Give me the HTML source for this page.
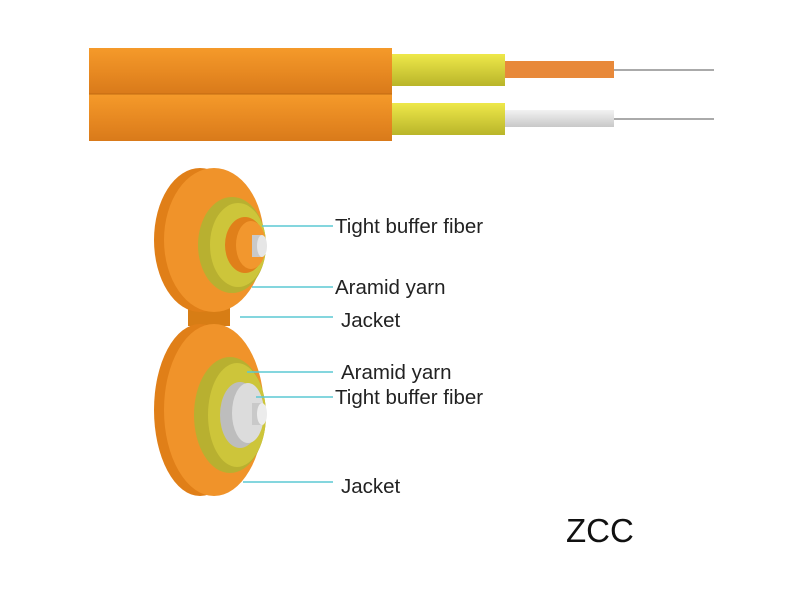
<!DOCTYPE html>
<html><head><style>body{margin:0;background:#fff}svg{display:block}</style></head><body>
<svg width="800" height="600" viewBox="0 0 800 600" xmlns="http://www.w3.org/2000/svg">
<defs>
<linearGradient id="og" x1="0" y1="0" x2="0" y2="1"><stop offset="0" stop-color="#f59a2a"/><stop offset="0.5" stop-color="#e88a22"/><stop offset="1" stop-color="#d97a1a"/></linearGradient>
<linearGradient id="yg" x1="0" y1="0" x2="0" y2="1"><stop offset="0" stop-color="#eee84a"/><stop offset="1" stop-color="#b9b52a"/></linearGradient>
<linearGradient id="wg" x1="0" y1="0" x2="0" y2="1"><stop offset="0" stop-color="#f2f2f2"/><stop offset="1" stop-color="#c8c8c8"/></linearGradient>
</defs>
<rect x="89" y="48" width="303" height="46" fill="url(#og)"/>
<rect x="89" y="94" width="303" height="47" fill="url(#og)"/>
<line x1="89" y1="94" x2="392" y2="94" stroke="#c06a10" stroke-width="1"/>
<rect x="392" y="54" width="113" height="32" fill="url(#yg)"/>
<rect x="392" y="103" width="113" height="32" fill="url(#yg)"/>
<rect x="505" y="61" width="109" height="17" fill="#e8893a"/>
<rect x="505" y="110" width="109" height="17" fill="url(#wg)"/>
<line x1="614" y1="70" x2="714" y2="70" stroke="#aaa" stroke-width="2"/>
<line x1="614" y1="119" x2="714" y2="119" stroke="#aaa" stroke-width="2"/>
<rect x="188" y="296" width="42" height="30" fill="#d77d15"/>
<ellipse cx="200" cy="240" rx="46" ry="72" fill="#e07f18"/>
<ellipse cx="214" cy="240" rx="50" ry="72" fill="#f0932a"/>
<ellipse cx="232" cy="245" rx="34" ry="48" fill="#b8b030"/>
<ellipse cx="238" cy="245" rx="28" ry="42" fill="#cdc53a"/>
<ellipse cx="245" cy="245" rx="20" ry="28" fill="#e0801a"/>
<ellipse cx="251" cy="245" rx="15" ry="24" fill="#f2972e"/>
<rect x="252" y="235" width="10" height="22" fill="#c9c9c9"/>
<ellipse cx="262" cy="246" rx="5" ry="11" fill="#e6e6e6"/>
<ellipse cx="200" cy="410" rx="46" ry="86" fill="#e07f18"/>
<ellipse cx="214" cy="410" rx="50" ry="86" fill="#f0932a"/>
<ellipse cx="230" cy="415" rx="36" ry="58" fill="#b8b030"/>
<ellipse cx="237" cy="415" rx="29" ry="52" fill="#cdc53a"/>
<ellipse cx="240" cy="415" rx="20" ry="33" fill="#bdbdbd"/>
<ellipse cx="248" cy="413" rx="16" ry="30" fill="#dcdcdc"/>
<rect x="252" y="403" width="10" height="22" fill="#c9c9c9"/>
<ellipse cx="262" cy="414" rx="5" ry="11" fill="#ececec"/>
<g stroke="#5cc8d4" stroke-width="1.5">
<line x1="262" y1="226" x2="333" y2="226"/>
<line x1="252" y1="287" x2="333" y2="287"/>
<line x1="240" y1="317" x2="333" y2="317"/>
<line x1="247" y1="372" x2="333" y2="372"/>
<line x1="256" y1="397" x2="333" y2="397"/>
<line x1="243" y1="482" x2="333" y2="482"/>
</g>
<g font-family="Liberation Sans, sans-serif" font-size="20.5" fill="#222">
<text x="335" y="233">Tight buffer fiber</text>
<text x="335" y="294">Aramid yarn</text>
<text x="341" y="327">Jacket</text>
<text x="341" y="379">Aramid yarn</text>
<text x="335" y="404">Tight buffer fiber</text>
<text x="341" y="493">Jacket</text>
</g>
<text x="566" y="542" font-family="Liberation Sans, sans-serif" font-size="33" fill="#111">ZCC</text>
</svg>
</body></html>
